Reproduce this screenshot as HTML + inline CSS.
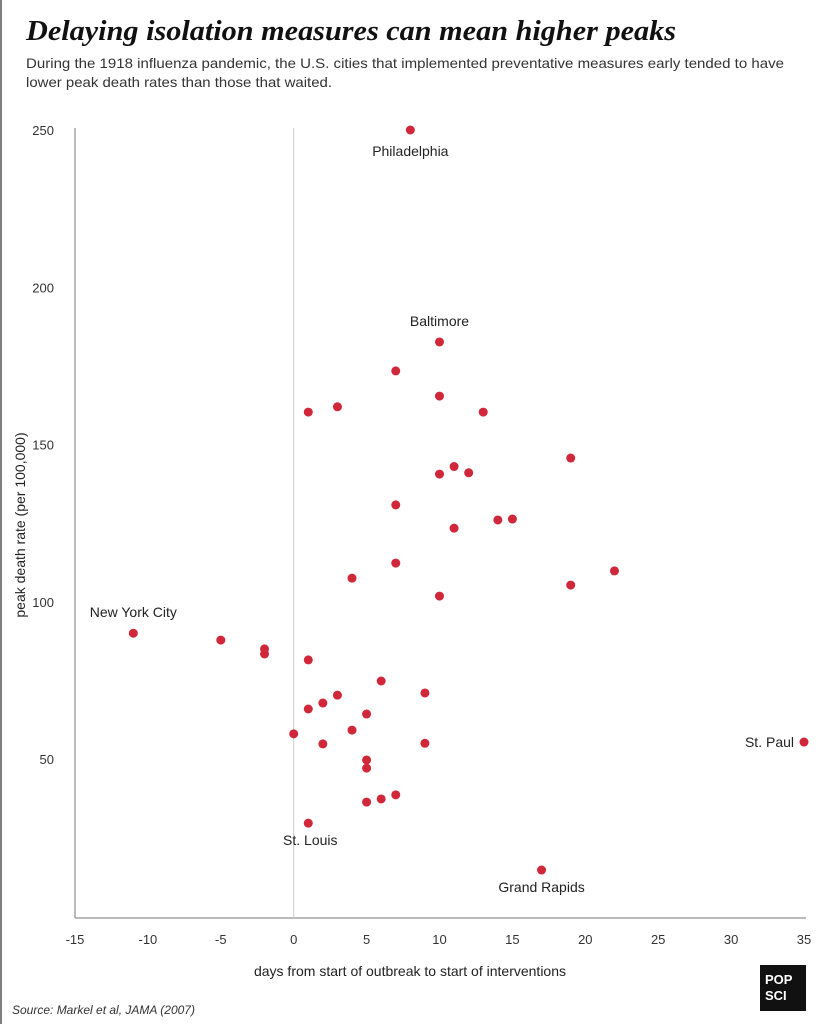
<!DOCTYPE html>
<html><head><meta charset="utf-8"><style>
body{margin:0;background:#fff;width:821px;height:1024px;overflow:hidden;font-family:"Liberation Sans",sans-serif;}
</style></head><body>
<svg width="821" height="1024" xmlns="http://www.w3.org/2000/svg">
<rect x="0" y="0" width="821" height="1024" fill="#fff"/>
<line x1="1" y1="0" x2="1" y2="1024" stroke="#555" stroke-width="1.5"/>
<text x="26" y="40" font-family="Liberation Serif,serif" font-weight="bold" font-style="italic" font-size="28" fill="#111" textLength="650" lengthAdjust="spacingAndGlyphs">Delaying isolation measures can mean higher peaks</text>
<text x="26" y="68" font-size="14" fill="#333" textLength="758" lengthAdjust="spacingAndGlyphs">During the 1918 influenza pandemic, the U.S. cities that implemented preventative measures early tended to have</text>
<text x="26" y="87" font-size="14" fill="#333" textLength="306" lengthAdjust="spacingAndGlyphs">lower peak death rates than those that waited.</text>
<g id="axes"></g>
<g id="marks"></g>
<text transform="translate(25,525) rotate(-90)" text-anchor="middle" font-size="14" fill="#222">peak death rate (per 100,000)</text>
<text x="410" y="976" text-anchor="middle" font-size="14" fill="#222">days from start of outbreak to start of interventions</text>
<text x="12" y="1014" font-size="12" font-style="italic" fill="#333">Source: Markel et al, JAMA (2007)</text>
<g>
<rect x="760" y="965" width="46" height="46" fill="#111"/>
<text x="765" y="984" font-size="13" font-weight="bold" fill="#fff">POP</text>
<text x="765" y="1000" font-size="13" font-weight="bold" fill="#fff">SCI</text>
</g>
</svg>
<script>
const days=[8,10,7,10,1,3,13,19,11,10,12,7,11,14,15,7,22,4,19,10,-11,-5,-2,-2,1,6,9,3,2,1,5,4,0,2,9,35,5,5,7,6,5,1,17];
const rates=[250,182.6,173.4,165.4,160.3,162,160.3,145.7,143,140.6,141,130.8,123.4,126,126.3,112.3,109.8,107.5,105.3,101.8,90,87.8,85,83.4,81.5,74.8,71,70.3,67.8,65.9,64.3,59.2,58,54.8,55,55.4,49.7,47.1,38.6,37.3,36.3,29.6,14.7];
const labels={0:"Philadelphia",1:"Baltimore",20:"New York City",35:"St. Paul",41:"St. Louis",42:"Grand Rapids"};
const xTicks=[-15,-10,-5,0,5,10,15,20,25,30,35];
const yTicks=[50,100,150,200,250];
const NS="http://www.w3.org/2000/svg";
const X=v=>293.7+v*14.58;
const Y=v=>759-(v-50)*3.145;
function mk(t,a,p){const e=document.createElementNS(NS,t);for(const k in a)e.setAttribute(k,a[k]);p.appendChild(e);return e;}
const ax=document.getElementById('axes'),mg=document.getElementById('marks');
let l=mk('line',{x1:75,y1:128,x2:75,y2:918,stroke:'#777','stroke-width':1},ax);


l=mk('line',{x1:75,y1:918,x2:806,y2:918,stroke:'#777','stroke-width':1},ax);


l=mk('line',{x1:X(0),y1:128,x2:X(0),y2:918,stroke:'#ccc','stroke-width':1},ax);


xTicks.forEach(v=>{const t=mk('text',{x:X(v),y:944,'text-anchor':'middle','font-size':13,fill:'#333'},ax);t.textContent=v;

});
yTicks.forEach(v=>{const t=mk('text',{x:54,y:Y(v)+5,'text-anchor':'end','font-size':13,fill:'#333'},ax);t.textContent=v;

});
days.forEach((d,i)=>{const c=mk('circle',{cx:X(d),cy:Y(rates[i]),r:4.5,fill:'#d0283a'},mg);


if(labels[i]){let x=X(d),y=Y(rates[i]),anc='middle',dy=22;
if(i===0)dy=26;if(i===1)dy=-16;if(i===20)dy=-16;if(i===35){anc='end';x-=10;dy=5;}
if(i===41)x+=2;
const t=mk('text',{x:x,y:y+dy,'text-anchor':anc,'font-size':14,fill:'#222'},mg);t.textContent=labels[i];

}});
</script>
</body></html>
